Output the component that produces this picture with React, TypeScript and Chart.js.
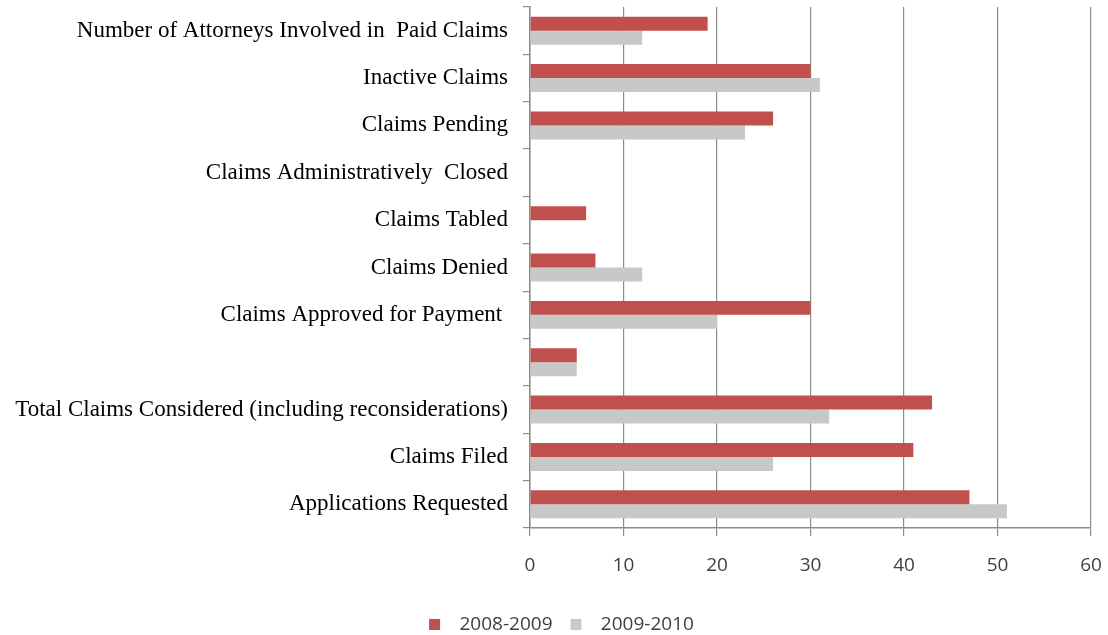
import React, { useEffect, useRef } from "react";
import { Chart, registerables } from "chart.js";

Chart.register(...registerables);

const categories = [
  "Number of Attorneys Involved in  Paid Claims",
  "Inactive Claims",
  "Claims Pending",
  "Claims Administratively  Closed",
  "Claims Tabled",
  "Claims Denied",
  "Claims Approved for Payment ",
  "",
  "Total Claims Considered (including reconsiderations)",
  "Claims Filed",
  "Applications Requested",
];

const series2008 = [19, 30, 26, 0, 6, 7, 30, 5, 43, 41, 47];
const series2009 = [12, 31, 23, 0, 0, 12, 20, 5, 32, 26, 51];
const seriesNames = ["2008-2009", "2009-2010"];
const xTicks = { min: 0, max: 60, step: 10 };

const legendShift = {
  id: "legendShift",
  afterLayout(c: any) {
    if (c.legend) {
      c.legend.left += 16;
      c.legend.right += 16;
    }
  },
};

export default function App() {
  const ref = useRef<HTMLCanvasElement>(null);
  useEffect(() => {
    if (!ref.current) return;
    const chart = new Chart(ref.current, {
      type: "bar",
      plugins: [legendShift],
      data: {
        labels: categories,
        datasets: [
          {
            label: seriesNames[0],
            data: series2008,
            backgroundColor: "#C0504D",
            borderWidth: 0,
            categoryPercentage: 0.59,
            barPercentage: 1,
          },
          {
            label: seriesNames[1],
            data: series2009,
            backgroundColor: "#C8C8C8",
            borderWidth: 0,
            categoryPercentage: 0.59,
            barPercentage: 1,
          },
        ],
      },
      options: {
        indexAxis: "y",
        animation: false,
        responsive: false,
        maintainAspectRatio: false,
        layout: { padding: { left: 0, right: 17, top: 7, bottom: -9 } },
        plugins: {
          tooltip: { enabled: false },
          legend: {
            position: "bottom",
            labels: {
              boxWidth: 11,
              boxHeight: 11,
              padding: 18,
              color: "#404040",
              font: { family: "'Open Sans', sans-serif", size: 19 },
              generateLabels: (c: any) =>
                Chart.defaults.plugins.legend.labels
                  .generateLabels(c)
                  .map((l: any) => ({ ...l, text: "  " + l.text })),
            },
          },
        },
        scales: {
          x: {
            min: xTicks.min,
            max: xTicks.max,
            ticks: {
              stepSize: xTicks.step,
              color: "#404040",
              padding: 18,
              font: { family: "'Open Sans', sans-serif", size: 19 },
            },
            grid: {
              color: "#8c8c8c",
              lineWidth: 1.2,
              tickLength: 8,
              drawTicks: true,
            },
            border: { color: "#8c8c8c", width: 1.5 },
            afterFit: (s: any) => {
              s.height = 69;
              s.paddingLeft = 0;
              s.paddingRight = 0;
            },
          },
          y: {
            offset: true,
            ticks: {
              color: "#000",
              padding: 15,
              font: { family: "'Liberation Serif', serif", size: 23 },
            },
            grid: {
              offset: true,
              drawOnChartArea: false,
              drawTicks: true,
              tickLength: 7,
              color: "#8c8c8c",
              lineWidth: 1.2,
            },
            border: { color: "#8c8c8c", width: 1.5 },
            afterFit: (s: any) => {
              s.width = 530;
              s.paddingTop = 0;
              s.paddingBottom = 0;
            },
          },
        },
      },
    });
    return () => chart.destroy();
  }, []);
  return (
    <div style={{ position: "fixed", left: 0, top: 0, width: 1108, height: 635, background: "#fff" }}>
      <canvas ref={ref} width={1108} height={635} style={{ display: "block" }} />
    </div>
  );
}
